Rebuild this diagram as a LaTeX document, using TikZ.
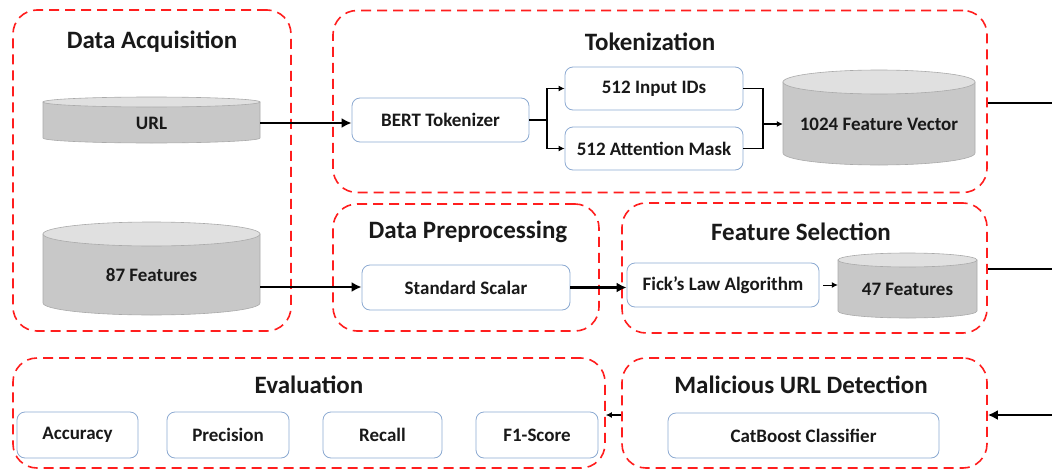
\documentclass[tikz,border=0pt]{standalone}
\usepackage{fontspec}
\setmainfont{Carlito}
\usetikzlibrary{arrows.meta}
\definecolor{grpred}{RGB}{255,30,30}
\definecolor{boxblue}{RGB}{140,170,210}
\definecolor{cylbody}{RGB}{200,200,200}
\definecolor{cyltop}{RGB}{224,224,224}
\definecolor{cylline}{RGB}{170,170,170}
\definecolor{txt}{RGB}{25,25,25}
\newcommand{\mycyl}[8]{% name, cx, top, bottom, w, ry, texty, text
  \path[fill=cylbody,draw=cylline,line width=0.6pt]
    ({#2-#5/2},{#3+#6}) -- ({#2-#5/2},{#4-#6})
    arc[start angle=180,end angle=360,x radius={#5/2*1pt},y radius=#6 pt]
    -- ({#2+#5/2},{#3+#6}) -- cycle;
  \path[fill=cyltop,draw=cylline,line width=0.6pt] (#2,{#3+#6}) ellipse[x radius={#5/2*1pt},y radius=#6 pt];
  \node[cyltext,minimum width=#5 pt] (#1) at (#2,#7) {#8};
}
\begin{document}
\begin{tikzpicture}[x=1pt,y=-1pt,
  grp/.style={draw=grpred,line width=1.6pt,dash pattern=on 10pt off 6pt,rounded corners=24pt},
  title/.style={font=\fontsize{25}{30}\bfseries\selectfont,text=txt,inner sep=0pt},
  proc/.style={draw=boxblue,fill=white,line width=0.8pt,rounded corners=8pt,font=\fontsize{19}{23}\bfseries\selectfont,text=txt,inner sep=0pt},
  cyltext/.style={font=\fontsize{19}{23}\bfseries\selectfont,text=txt,inner sep=0pt,minimum height=20pt},
  conn/.style={line width=2.2pt,draw=black},
  thin/.style={line width=1.4pt,draw=black},
  tip/.style={-{Latex[length=10pt,width=10pt]}},
  smalltip/.style={-{Latex[length=6pt,width=6pt]}}
]
\useasboundingbox (0,0) rectangle (1052,471);

% group frames
\node[grp,minimum width=278pt,minimum height=321pt] (gacq) at (152,170.5) {};
\node[grp,minimum width=654pt,minimum height=182pt] (gtok) at (660,101.5) {};
\node[grp,minimum width=266pt,minimum height=127pt] (gpre) at (466,267.5) {};
\node[grp,minimum width=365pt,minimum height=130pt] (gsel) at (804.5,268) {};
\node[grp,minimum width=592pt,minimum height=110pt] (geval) at (309,413) {};
\node[grp,minimum width=365pt,minimum height=110pt] (gdet) at (804.5,413) {};

% titles
\node[title] (tacq) at (152,42) {Data Acquisition};
\node[title] (ttok) at (650,42) {Tokenization};
\node[title] (tpre) at (468,232) {Data Preprocessing};
\node[title] (tsel) at (801,232) {Feature Selection};
\node[title] (teval) at (309,385) {Evaluation};
\node[title] (tdet) at (801,385) {Malicious URL Detection};

% cylinders
\mycyl{url}{151.5}{97}{143}{217}{5}{123}{URL}
\mycyl{f87}{151.5}{222}{315}{217}{12}{275}{87 Features}
\mycyl{fvec}{879}{70}{165}{192}{12}{124}{1024 Feature Vector}
\mycyl{f47}{907.5}{253}{318}{139}{7}{289}{47 Features}

% process boxes
\node[proc,minimum width=177pt,minimum height=44pt] (bert) at (440.5,120) {BERT Tokenizer};
\node[proc,minimum width=178pt,minimum height=43pt] (ids) at (654,88.5) {512 Input IDs};
\node[proc,minimum width=178pt,minimum height=43pt] (mask) at (654,148.5) {512 Attention Mask};
\node[proc,minimum width=208pt,minimum height=45pt] (scal) at (466,287.5) {Standard Scalar};
\node[proc,minimum width=192pt,minimum height=44pt] (fick) at (723,285) {Fick’s Law Algorithm};
\node[proc,minimum width=121pt,minimum height=46pt] (acc) at (77.5,435) {Accuracy};
\node[proc,minimum width=122pt,minimum height=46pt] (prec) at (228,435) {Precision};
\node[proc,minimum width=119pt,minimum height=46pt] (rec) at (382.5,435) {Recall};
\node[proc,minimum width=122pt,minimum height=46pt] (f1) at (537,435) {F1-Score};
\node[proc,minimum width=271pt,minimum height=45pt] (cat) at (803.5,435.5) {CatBoost Classifier};

% connectors
\draw[conn,tip] (url.east) -- (bert.west |- url.east);
\coordinate (split) at (547,120);
\draw[thin] (bert.east) -- (split);
\draw[thin,smalltip] (split) |- (ids.west);
\draw[thin,smalltip] (split) |- (mask.west);
\coordinate (merge) at (763,124);
\draw[thin] (ids.east) -| (merge);
\draw[thin] (mask.east) -| (merge);
\draw[thin,smalltip] (merge) -- (fvec.west);
\coordinate (a87) at ([yshift=-12pt]f87.east);
\draw[conn,tip] (a87) -- (scal.west |- a87);
\draw[conn,tip] (scal.east) -- (fick.west |- scal.east);
\draw[thin,line width=1pt,smalltip] ([xshift=4pt]fick.east) -- (f47.west |- fick.east);
\coordinate (o1) at (1052,103);
\coordinate (o2) at (1052,269);
\coordinate (i3) at (1052,415);
\draw[conn] (o1 -| gtok.east) -- (o1);
\draw[conn] (o2 -| gsel.east) -- (o2);
\draw[conn,tip] (i3) -- (i3 -| gdet.east);
\draw[thin,smalltip] (i3 -| gdet.west) -- (i3 -| geval.east);
\end{tikzpicture}
\end{document}
